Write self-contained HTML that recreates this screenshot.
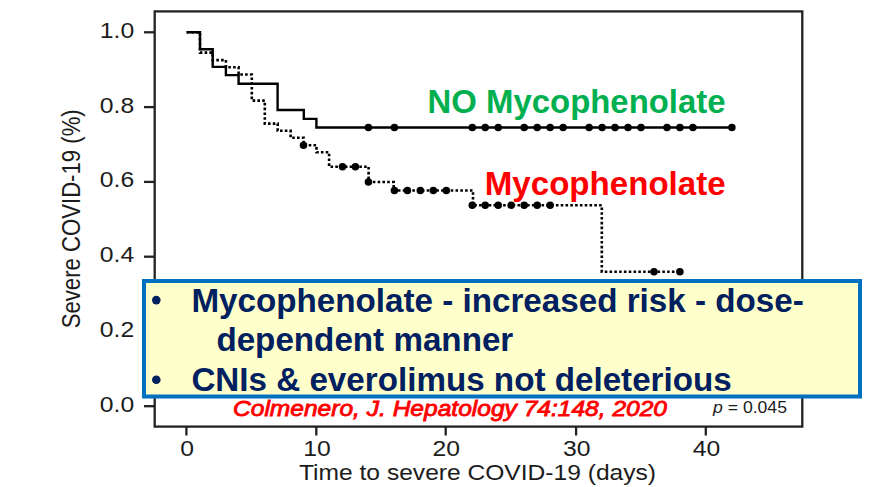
<!DOCTYPE html>
<html><head><meta charset="utf-8">
<style>
html,body{margin:0;padding:0;background:#fff;width:871px;height:487px;overflow:hidden}
svg{position:absolute;left:0;top:0}
text{font-family:"Liberation Sans",sans-serif}
.tk{font-size:21.5px;fill:#1c1c1c}
.tt{font-size:21.5px;fill:#1c1c1c}
.big{font-size:33.2px;font-weight:bold}
</style></head><body>
<svg width="871" height="487" viewBox="0 0 871 487">
<g stroke="#222" stroke-width="2.3" fill="none">
<rect x="154.7" y="11.4" width="647.6" height="415.2"/>
<line x1="144" y1="32.3" x2="155" y2="32.3"/><line x1="144" y1="107.1" x2="155" y2="107.1"/><line x1="144" y1="181.9" x2="155" y2="181.9"/><line x1="144" y1="256.7" x2="155" y2="256.7"/><line x1="144" y1="331.5" x2="155" y2="331.5"/><line x1="144" y1="406.2" x2="155" y2="406.2"/><line x1="186.4" y1="426" x2="186.4" y2="435.5"/><line x1="316.3" y1="426" x2="316.3" y2="435.5"/><line x1="445.7" y1="426" x2="445.7" y2="435.5"/><line x1="576.1" y1="426" x2="576.1" y2="435.5"/><line x1="705.8" y1="426" x2="705.8" y2="435.5"/>
</g>
<text transform="translate(134.2,37.8) scale(1.15,1)" text-anchor="end" class="tk">1.0</text><text transform="translate(134.2,112.6) scale(1.15,1)" text-anchor="end" class="tk">0.8</text><text transform="translate(134.2,187.4) scale(1.15,1)" text-anchor="end" class="tk">0.6</text><text transform="translate(134.2,262.2) scale(1.15,1)" text-anchor="end" class="tk">0.4</text><text transform="translate(134.2,337.0) scale(1.15,1)" text-anchor="end" class="tk">0.2</text><text transform="translate(134.2,411.7) scale(1.15,1)" text-anchor="end" class="tk">0.0</text>
<text transform="translate(187.0,455.7) scale(1.15,1)" text-anchor="middle" class="tk">0</text><text transform="translate(316.90000000000003,455.7) scale(1.15,1)" text-anchor="middle" class="tk">10</text><text transform="translate(446.3,455.7) scale(1.15,1)" text-anchor="middle" class="tk">20</text><text transform="translate(576.7,455.7) scale(1.15,1)" text-anchor="middle" class="tk">30</text><text transform="translate(706.4,455.7) scale(1.15,1)" text-anchor="middle" class="tk">40</text>
<text class="tt" transform="translate(79.9,328.3) rotate(-90) scale(1,1.16)" textLength="219" lengthAdjust="spacingAndGlyphs">Severe COVID-19 (%)</text>
<text class="tt" x="299" y="480.3" textLength="357" lengthAdjust="spacingAndGlyphs">Time to severe COVID-19 (days)</text>
<path d="M186.6,32.2 H200.0 V49.2 H212.7 V66.9 H225.9 V75.1 H238.6 V83.8 H277.6 V110.0 H303.8 V118.9 H316.4 V127.5 H732.3" stroke="#000" stroke-width="2.4" fill="none"/>
<path d="M186.6,32.2 H200.0 V52.6 H212.7 V60.1 H225.9 V67.3 H238.6 V74.5 H251.8 V100.6 H264.8 V123.6 H277.7 V130.8 H290.6 V137.8 H303.6 V145.3 H316.5 V152.3 H329.1 V166.7 H368.6 V182.0 H393.7 V190.5 H473.0 V205.3 H601.8 V271.7 H680.0" stroke="#000" stroke-width="2.6" fill="none" stroke-dasharray="2.6 2.2"/>
<g fill="#000"><circle cx="368.4" cy="127.5" r="3.75"/><circle cx="394.4" cy="127.5" r="3.75"/><circle cx="472.3" cy="127.5" r="3.75"/><circle cx="485.2" cy="127.5" r="3.75"/><circle cx="498.2" cy="127.5" r="3.75"/><circle cx="524.2" cy="127.5" r="3.75"/><circle cx="537.2" cy="127.5" r="3.75"/><circle cx="550.1" cy="127.5" r="3.75"/><circle cx="563.1" cy="127.5" r="3.75"/><circle cx="589.1" cy="127.5" r="3.75"/><circle cx="602.1" cy="127.5" r="3.75"/><circle cx="615.0" cy="127.5" r="3.75"/><circle cx="628.0" cy="127.5" r="3.75"/><circle cx="641.0" cy="127.5" r="3.75"/><circle cx="667.0" cy="127.5" r="3.75"/><circle cx="679.9" cy="127.5" r="3.75"/><circle cx="692.9" cy="127.5" r="3.75"/><circle cx="731.9" cy="127.5" r="3.75"/><circle cx="303.5" cy="145.3" r="3.75"/><circle cx="342.5" cy="166.7" r="3.75"/><circle cx="355.4" cy="166.7" r="3.75"/><circle cx="368.4" cy="182.0" r="3.75"/><circle cx="394.4" cy="190.5" r="3.75"/><circle cx="407.4" cy="190.5" r="3.75"/><circle cx="420.3" cy="190.5" r="3.75"/><circle cx="433.3" cy="190.5" r="3.75"/><circle cx="446.3" cy="190.5" r="3.75"/><circle cx="472.3" cy="205.3" r="3.75"/><circle cx="485.2" cy="205.3" r="3.75"/><circle cx="498.2" cy="205.3" r="3.75"/><circle cx="511.2" cy="205.3" r="3.75"/><circle cx="524.2" cy="205.3" r="3.75"/><circle cx="537.2" cy="205.3" r="3.75"/><circle cx="550.1" cy="205.3" r="3.75"/><circle cx="654.0" cy="271.7" r="3.75"/><circle cx="679.9" cy="271.7" r="3.75"/></g>
<text class="big" x="725.5" y="112.7" text-anchor="end" fill="#00B050" style="font-size:32.9px">NO Mycophenolate</text>
<text class="big" x="725.6" y="194.8" text-anchor="end" fill="#FF0000" style="font-size:33.1px">Mycophenolate</text>
<text x="233" y="416.3" fill="#FF0000" stroke="#FF0000" stroke-width="0.85" style="font-size:22px;font-style:italic" textLength="434" lengthAdjust="spacingAndGlyphs">Colmenero, J. Hepatology 74:148, 2020</text>
<text x="713" y="412.5" fill="#1c1c1c" style="font-size:16.5px" textLength="74" lengthAdjust="spacingAndGlyphs"><tspan font-style="italic">p</tspan> = 0.045</text>
<rect x="144" y="281" width="716" height="115.5" fill="#FFFFCC" stroke="#0070C0" stroke-width="4"/>
<g fill="#002060">
<circle cx="156.3" cy="300.1" r="4.3"/>
<circle cx="156.3" cy="379.8" r="4.3"/>
<text class="big" x="191.4" y="311.9">Mycophenolate - increased risk - dose-</text>
<text class="big" x="216.4" y="351.2">dependent manner</text>
<text class="big" x="191.4" y="390.8">CNIs &amp; everolimus not deleterious</text>
</g>
</svg>
</body></html>
